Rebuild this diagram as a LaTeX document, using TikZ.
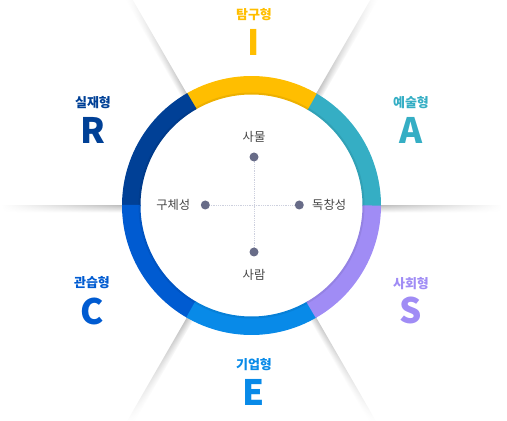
\documentclass[tikz,border=0pt]{standalone}
\usepackage{fontspec}
\setmainfont{Noto Sans CJK KR}
\usetikzlibrary{fadings}
\definecolor{cI}{RGB}{255,190,0}
\definecolor{cA}{RGB}{53,174,196}
\definecolor{cS}{RGB}{160,140,245}
\definecolor{cE}{RGB}{8,138,232}
\definecolor{cC}{RGB}{0,91,209}
\definecolor{cR}{RGB}{0,64,150}
\definecolor{dotc}{RGB}{104,108,136}
\definecolor{txt}{RGB}{68,68,68}
\definecolor{gridc}{RGB}{205,208,222}
\tikzfading[name=fadeout, left color=transparent!0, right color=transparent!100]
\begin{document}
\begin{tikzpicture}[x=1pt,y=1pt,
  seg/.style={line width=18.5pt},
  typename/.style={font=\fontsize{13}{15}\selectfont\bfseries, inner sep=0pt},
  typeletter/.style={font=\fontsize{35}{36}\selectfont\bfseries, inner sep=0pt},
  axislabel/.style={font=\fontsize{12.3}{14}\selectfont, text=txt, inner sep=0pt},
  axisdot/.style={circle, fill=dotc, inner sep=0pt, minimum size=9pt},
  gridline/.style={gridc, densely dotted, line width=0.8pt}]
\useasboundingbox (0,0) rectangle (507,421);
\coordinate (O) at (251.5,215.5);
% fold shadows (cast on the lower side of each crease)
\foreach \a/\s in {0/-1, 60/-1, 120/1, 180/1, 240/1, 300/-1} {
  \begin{scope}[transform canvas={shift={(251.5,215.5)}, rotate=\a, yscale=\s}]
    \shade[bottom color=black!24, top color=white, path fading=fadeout]
      (129,0) rectangle (250,7);
  \end{scope}
}
% ring
\draw[seg, cA] (O) ++(-0.3:120.25pt) arc[start angle=-0.3, end angle=60.3, radius=120.25pt];
\draw[seg, cI] (O) ++(59.7:120.25pt) arc[start angle=59.7, end angle=120.3, radius=120.25pt];
\draw[seg, cR] (O) ++(119.7:120.25pt) arc[start angle=119.7, end angle=180.3, radius=120.25pt];
\draw[seg, cC] (O) ++(179.7:120.25pt) arc[start angle=179.7, end angle=240.3, radius=120.25pt];
\draw[seg, cE] (O) ++(239.7:120.25pt) arc[start angle=239.7, end angle=300.3, radius=120.25pt];
\draw[seg, cS] (O) ++(299.7:120.25pt) arc[start angle=299.7, end angle=360, radius=120.25pt];
\draw[black, opacity=0.07, line width=2pt] (O) circle[radius=112pt];
% type labels
\node[typename, text=cI] (nI) at (254,406) {탐구형};
\node[typeletter, text=cI] (lI) at (254,379) {I};
\node[typename, text=cA] (nA) at (411,318) {예술형};
\node[typeletter, text=cA] (lA) at (411.5,291) {A};
\node[typename, text=cR] (nR) at (93,318) {실재형};
\node[typeletter, text=cR] (lR) at (93,290.5) {R};
\node[typename, text=cC] (nC) at (92,138) {관습형};
\node[typeletter, text=cC] (lC) at (92,109.5) {C};
\node[typename, text=cS] (nS) at (411,137.5) {사회형};
\node[typeletter, text=cS] (lS) at (411,111) {S};
\node[typename, text=cE] (nE) at (254,56) {기업형};
\node[typeletter, text=cE] (lE) at (254,29) {E};
% axes
\coordinate (pT) at (254,264);
\coordinate (pB) at (254,169);
\coordinate (pL) at (205.3,216);
\coordinate (pR) at (299.3,216);
\draw[gridline] (pT) -- (pB);
\draw[gridline] (pL) -- (pR);
\node[axisdot] (dT) at (pT) {};
\node[axisdot] (dB) at (pB) {};
\node[axisdot] (dL) at (pL) {};
\node[axisdot] (dR) at (pR) {};
\node[axislabel] (tT) at (254,284) {사물};
\node[axislabel] (tB) at (254,146.5) {사람};
\node[axislabel, anchor=east] (tL) at (190.5,216) {구체성};
\node[axislabel, anchor=west] (tR) at (312,216) {독창성};
\end{tikzpicture}
\end{document}
